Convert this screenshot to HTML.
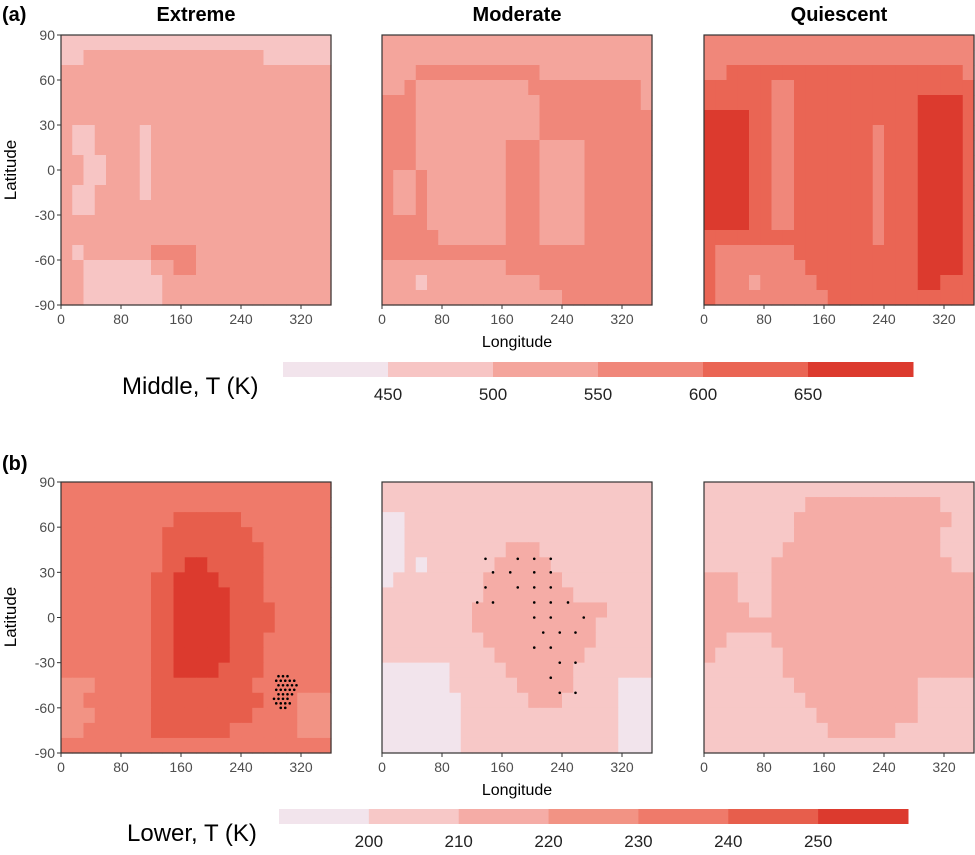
<!DOCTYPE html>
<html><head><meta charset="utf-8"><style>
body{margin:0;background:#fff}
svg text{font-family:"Liberation Sans",sans-serif}
</style></head><body>
<svg id="fig" width="975" height="850" viewBox="0 0 975 850" xmlns="http://www.w3.org/2000/svg">
<text x="2" y="21" font-size="20" font-weight="bold">(a)</text>
<text x="2" y="470" font-size="20" font-weight="bold">(b)</text>
<text x="196" y="21" font-size="20" font-weight="bold" text-anchor="middle">Extreme</text>
<text x="517" y="21" font-size="20" font-weight="bold" text-anchor="middle">Moderate</text>
<text x="839" y="21" font-size="20" font-weight="bold" text-anchor="middle">Quiescent</text>
<text transform="translate(16,170) rotate(-90)" font-size="17" text-anchor="middle">Latitude</text>
<text transform="translate(16,617) rotate(-90)" font-size="17" text-anchor="middle">Latitude</text>
<text x="517" y="347" font-size="16" text-anchor="middle">Longitude</text>
<text x="517" y="795" font-size="16" text-anchor="middle">Longitude</text>
<text x="122" y="394" font-size="24">Middle, T (K)</text>
<text x="127" y="841" font-size="24">Lower, T (K)</text>
</svg>
<script>
const palA=["#f2e4ec","#f7c5c4","#f4a59c","#f0877a","#ea6554","#dc3a2e"];
const palB=["#f2e4ec","#f7c8c7","#f5aca6","#f29384","#ef7a6a","#e75e4c","#dc3a2e"];
const ticksA=["450","500","550","600","650"];
const ticksB=["200","210","220","230","240","250"];
const latTicks=[90,60,30,0,-30,-60,-90];
const lonTicks=[0,80,160,240,320];
const r=(s,n)=>s.repeat(n);
const gridA1=[r("1",24),"11"+r("2",16)+r("1",6),r("2",24),r("2",24),r("2",24),r("2",24),
"21122221"+r("2",16),"21122221"+r("2",16),"22112221"+r("2",16),"22112221"+r("2",16),"21122221"+r("2",16),"21122222"+r("2",16),
r("2",24),r("2",24),"21222222"+"3333"+r("2",12),"22111111"+"2233"+r("2",12),"22111111"+"1222"+r("2",12),"22111111"+"1222"+r("2",12)];
const gridA2=[r("2",24),r("2",24),"222"+r("3",11)+r("2",10),"223"+r("2",10)+r("3",10)+"2","333"+r("2",11)+r("3",9)+"2","333"+r("2",11)+r("3",10),
"333"+r("2",11)+r("3",10),"333"+r("2",8)+"333"+"2222"+r("3",6),"333"+r("2",8)+"333"+"2222"+r("3",6),"322"+"32222222"+"333"+"2222"+r("3",6),"322"+"32222222"+"333"+"2222"+r("3",6),"322"+"32222222"+"333"+"2222"+r("3",6),
"333"+"32222222"+"333"+"2222"+r("3",6),"333"+"33222222"+"333"+"2222"+r("3",6),r("3",24),r("2",11)+r("3",13),"222"+"1"+r("2",10)+r("3",10),r("2",16)+r("3",8)];
const gridA3=[r("3",24),r("3",24),"33"+r("4",21)+"3","444444"+"33"+r("4",16),"444444"+"33"+r("4",11)+"5555"+"4","5555"+"44"+"33"+r("4",11)+"5555"+"4",
"5555"+"44"+"33"+r("4",7)+"3"+"444"+"5555"+"4","5555"+"44"+"33"+r("4",7)+"3"+"444"+"5555"+"4","5555"+"44"+"33"+r("4",7)+"3"+"444"+"5555"+"4","5555"+"44"+"33"+r("4",7)+"3"+"444"+"5555"+"4","5555"+"44"+"33"+r("4",7)+"3"+"444"+"5555"+"4","5555"+"44"+"33"+r("4",7)+"3"+"444"+"5555"+"4",
"5555"+"44"+"33"+r("4",7)+"3"+"444"+"5555"+"4",r("4",15)+"3"+"444"+"5555"+"4","4"+r("3",7)+r("4",11)+"5555"+"4","4"+r("3",8)+r("4",10)+"5555"+"4","4333"+"2"+"33333"+r("4",9)+"55"+"444","4"+r("3",10)+r("4",13)];
const gridB1=[r("4",24),r("4",24),r("4",10)+r("5",6)+r("4",8),r("4",9)+r("5",8)+r("4",7),r("4",9)+r("5",9)+r("4",6),r("4",9)+"55"+"66"+"55555"+r("4",6),
r("4",8)+"55"+"6666"+"5555"+r("4",6),r("4",8)+"55"+"66666"+"555"+r("4",6),r("4",8)+"55"+"66666"+"5555"+r("4",5),r("4",8)+"55"+"66666"+"5555"+r("4",5),r("4",8)+"55"+"66666"+"555"+r("4",6),r("4",8)+"55"+"66666"+"555"+r("4",6),
r("4",8)+"55"+"6666"+"5555"+r("4",6),"333"+r("4",5)+r("5",9)+r("4",7),"33"+r("4",6)+r("5",10)+"444"+"333","333"+r("4",5)+r("5",9)+"4444"+"333","33"+r("4",6)+r("5",7)+r("4",6)+"333",r("4",24)];
const gridB2=[r("1",24),r("1",24),"00"+r("1",22),"00"+r("1",22),"00"+r("1",9)+"222"+r("1",10),"0010"+r("1",6)+"22222"+r("1",9),
"0"+r("1",8)+r("2",7)+r("1",8),r("1",9)+r("2",8)+r("1",7),r("1",8)+r("2",12)+r("1",4),r("1",8)+r("2",11)+r("1",5),r("1",9)+r("2",10)+r("1",5),r("1",10)+r("2",8)+r("1",6),
"000000"+r("1",5)+r("2",6)+r("1",7),"000000"+r("1",6)+r("2",5)+"1111"+"000",r("0",7)+r("1",6)+"222"+r("1",5)+"000",r("0",7)+r("1",14)+"000",r("0",7)+r("1",14)+"000",r("0",7)+r("1",14)+"000"];
const gridB3=[r("1",24),r("1",9)+r("2",12)+"111",r("1",8)+r("2",14)+"11",r("1",8)+r("2",13)+"111",r("1",7)+r("2",14)+"111",r("1",6)+r("2",16)+"11",
"222111"+r("2",18),"222111"+r("2",18),"222211"+r("2",18),r("2",24),"221111"+r("2",18),"2111111"+r("2",17),
r("1",7)+r("2",17),r("1",8)+r("2",11)+r("1",5),r("1",9)+r("2",10)+r("1",5),r("1",10)+r("2",9)+r("1",5),r("1",11)+r("2",6)+r("1",7),r("1",24)];
const dotLonB1=[287,293,299,305,311,290,296,302,308,314,287,293,299,305,311,290,296,302,308,284,290,296,302,287,293,299,305,293,299,290,296,302];
const dotLatB1=[-42,-42,-42,-42,-42,-45,-45,-45,-45,-45,-48,-48,-48,-48,-48,-51,-51,-51,-51,-54,-54,-54,-54,-57,-57,-57,-57,-60,-60,-39,-39,-39];
const dotLonB2=[138,181,203,225,148,171,203,225,138,181,203,225,127,148,203,225,248,203,225,269,215,237,258,203,225,237,258,225,237,258];
const dotLatB2=[39,39,39,39,30,30,30,30,20,20,20,20,10,10,10,10,10,0,0,0,-10,-10,-10,-20,-20,-30,-30,-40,-50,-50];

const svg=document.getElementById('fig');
const NS="http://www.w3.org/2000/svg";
function mk(tag,attrs,parent){const e=document.createElementNS(NS,tag);for(const k in attrs)e.setAttribute(k,attrs[k]);(parent||svg).appendChild(e);return e;}
const colsX=[61,382,704];
const PW=270;
function panel(px,top,bottom,grid,pal,name,showY,dLon,dLat){
  const g=mk('g',{});
  
  
  const xs=lon=>px+lon*PW/360, ys=lat=>top+(90-lat)*(bottom-top)/180;
  const nr=grid.length,nc=grid[0].length;
  for(let i=0;i<nr;i++)for(let j=0;j<nc;j++){
    const x0=xs(j*360/nc),x1=xs((j+1)*360/nc),y0=ys(90-i*180/nr),y1=ys(90-(i+1)*180/nr);
    const c=mk('rect',{x:x0,y:y0,width:x1-x0+0.6,height:y1-y0+0.6,fill:pal[+grid[i][j]]},g);
    
    
  }
  if(dLon){for(let k=0;k<dLon.length;k++){const d=mk('circle',{cx:xs(dLon[k]),cy:ys(dLat[k]),r:1.3,fill:'#000'},g);
    
    }}
  const fr=mk('rect',{x:px,y:top,width:PW,height:bottom-top,fill:'none',stroke:'#333','stroke-width':1.2},g);
  
  
  lonTicks.forEach(l=>{const x=xs(l);mk('line',{x1:x,x2:x,y1:bottom,y2:bottom+4,stroke:'#333'},g);
    const t=mk('text',{x:x,y:bottom+19,'font-size':14,'text-anchor':'middle',fill:'#4d4d4d'},g);t.textContent=l;
    
    });
  if(showY)latTicks.forEach(l=>{const y=ys(l);mk('line',{x1:px-4,x2:px,y1:y,y2:y,stroke:'#333'},g);
    const t=mk('text',{x:px-6,y:y+5,'font-size':14,'text-anchor':'end',fill:'#4d4d4d'},g);t.textContent=l;
    
    });
}
panel(colsX[0],35,305,gridA1,palA,'map-middle-extreme',true);
panel(colsX[1],35,305,gridA2,palA,'map-middle-moderate',false);
panel(colsX[2],35,305,gridA3,palA,'map-middle-quiescent',false);
panel(colsX[0],482,753,gridB1,palB,'map-lower-extreme',true,dotLonB1,dotLatB1);
panel(colsX[1],482,753,gridB2,palB,'map-lower-moderate',false,dotLonB2,dotLatB2);
panel(colsX[2],482,753,gridB3,palB,'map-lower-quiescent',false);
function cbar(x0,x1,y,pal,ticks,name){
  const g=mk('g',{});
  
  
  const w=(x1-x0)/pal.length;
  pal.forEach((c,i)=>{const b=mk('rect',{x:x0+i*w,y:y,width:w+0.5,height:15,fill:c},g);
    
    });
  ticks.forEach((t,i)=>{const e=mk('text',{x:x0+(i+1)*w,y:y+38,'font-size':17,'text-anchor':'middle',fill:'#222'},g);e.textContent=t;
    
    });
}
cbar(283,913,362,palA,ticksA,'colorbar-middle');
cbar(279,908,809,palB,ticksB,'colorbar-lower');
</script>
</body></html>
